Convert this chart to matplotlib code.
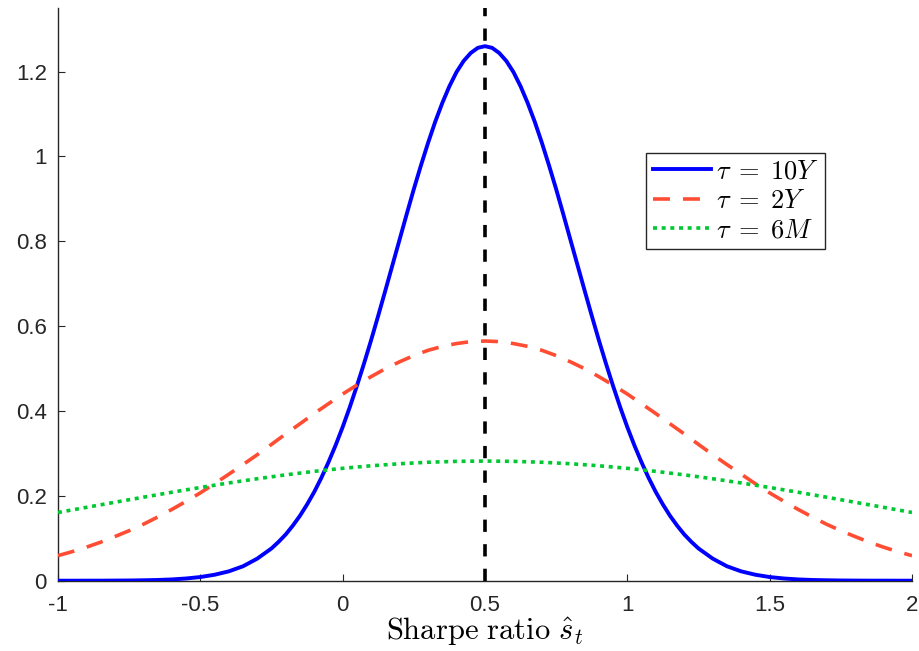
import matplotlib
matplotlib.use("Agg")
import matplotlib.pyplot as plt

plt.rcParams['mathtext.fontset'] = 'cm'
plt.rcParams['font.family'] = ['Liberation Sans', 'DejaVu Sans']

# Blue curve (tau = 10Y): tails at 0.05 steps, core (-0.25..1.25) at 0.025 steps
x_blue_left = [-1.0, -0.95, -0.9, -0.85, -0.8, -0.75, -0.7, -0.65, -0.6, -0.55,
               -0.5, -0.45, -0.4, -0.35, -0.3]
y_blue_left = [0.0000, 0.0000, 0.0001, 0.0001, 0.0003, 0.0005, 0.0010, 0.0017, 0.0030, 0.0052,
               0.0086, 0.0140, 0.022, 0.034, 0.052]
x_blue_core_half = [-0.25, -0.225, -0.2, -0.175, -0.15, -0.125, -0.1, -0.075, -0.05, -0.025,
                    0.0, 0.025, 0.05, 0.075, 0.1, 0.125, 0.15, 0.175, 0.2, 0.225,
                    0.25, 0.275, 0.3, 0.325, 0.35, 0.375, 0.4, 0.425, 0.45, 0.475]
y_blue_core_half = [0.076, 0.0916, 0.109, 0.1298, 0.153, 0.1796, 0.209, 0.2422, 0.279, 0.3187,
                    0.362, 0.4089, 0.459, 0.5118, 0.567, 0.6248, 0.684, 0.7440, 0.804, 0.8641,
                    0.923, 0.9788, 1.032, 1.0815, 1.126, 1.1655, 1.199, 1.2251, 1.244, 1.2561]
blue_peak_x = 0.5
blue_peak_y = 1.260

x_blue = (x_blue_left + x_blue_core_half + [blue_peak_x]
          + [round(1.0 - v, 3) for v in x_blue_core_half[::-1]]
          + [round(1.0 - v, 3) for v in x_blue_left[::-1]])
y_blue = (y_blue_left + y_blue_core_half + [blue_peak_y]
          + y_blue_core_half[::-1] + y_blue_left[::-1])

# Red curve (tau = 2Y), x from -1 to 2 step 0.05
x_red = [round(-1 + 0.05 * i, 2) for i in range(61)]
half_red = [0.059, 0.0685, 0.079, 0.0908, 0.104, 0.1179, 0.133, 0.1500, 0.168, 0.1870,
            0.207, 0.2285, 0.251, 0.2737, 0.297, 0.3213, 0.346, 0.3698, 0.394, 0.4171,
            0.440, 0.4611, 0.481, 0.4997, 0.516, 0.5307, 0.543, 0.5524, 0.559, 0.5636]
y_red = half_red + [0.565] + half_red[::-1]

# Green curve (tau = 6M), x from -1 to 2 step 0.1
x_green = [round(-1 + 0.1 * i, 1) for i in range(31)]
half_green = [0.1608, 0.1729, 0.1849, 0.1968, 0.2085, 0.2197, 0.2304, 0.2403, 0.2495, 0.2577,
              0.2649, 0.2709, 0.2757, 0.2792, 0.2813]
y_green = half_green + [0.282] + half_green[::-1]

labels = [r'$\tau\;=\;10Y$', r'$\tau\;=\;2Y$', r'$\tau\;=\;6M$']
vline_x = 0.5
xticks = [-1, -0.5, 0, 0.5, 1, 1.5, 2]
xticklabels = ['-1', '-0.5', '0', '0.5', '1', '1.5', '2']
yticks = [0, 0.2, 0.4, 0.6, 0.8, 1, 1.2]
yticklabels = ['0', '0.2', '0.4', '0.6', '0.8', '1', '1.2']

fig = plt.figure(figsize=(9.2, 6.51), dpi=100)
ax = fig.add_axes([0.0630, 0.108, 0.9913 - 0.0630, 0.9877 - 0.108])

ax.plot(x_blue, y_blue, color='#0000FF', lw=2.8, label=labels[0], zorder=3)
ax.plot(x_red, y_red, color='#FF4D33', lw=2.6, ls=(0, (4.7, 3.6)), label=labels[1], zorder=3)
ax.plot(x_green, y_green, color='#00C832', lw=2.6, ls=(0, (1.1, 1.3)), label=labels[2], zorder=3)
ax.axvline(vline_x, color='black', lw=2.6, ls=(0, (3.4, 3.4)), zorder=4)

ax.set_xlim(-1, 2)
ax.set_ylim(0, 1.35)
ax.set_xticks(xticks)
ax.set_xticklabels(xticklabels)
ax.set_yticks(yticks)
ax.set_yticklabels(yticklabels)
ax.tick_params(direction='in', length=5, width=0.8, labelsize=16, colors='#262626', pad=8)
ax.tick_params(axis='x', pad=10)
for s in ['top', 'right']:
    ax.spines[s].set_visible(False)
for s in ['left', 'bottom']:
    ax.spines[s].set_linewidth(1.0)
    ax.spines[s].set_color('#262626')

ax.set_xlabel(r'$\mathrm{Sharpe\ ratio}\ \hat{s}_t$', fontsize=22, labelpad=0)

leg = ax.legend(loc='upper left', bbox_to_anchor=(646 / 920, 1 - 153 / 651),
                bbox_transform=fig.transFigure, borderaxespad=0, fancybox=False,
                edgecolor='#262626', framealpha=1, fontsize=19, handlelength=2.2,
                handletextpad=0.2, labelspacing=0.2, borderpad=0.25)
leg.get_frame().set_linewidth(1.0)

fig.savefig('out.png', dpi=100)
